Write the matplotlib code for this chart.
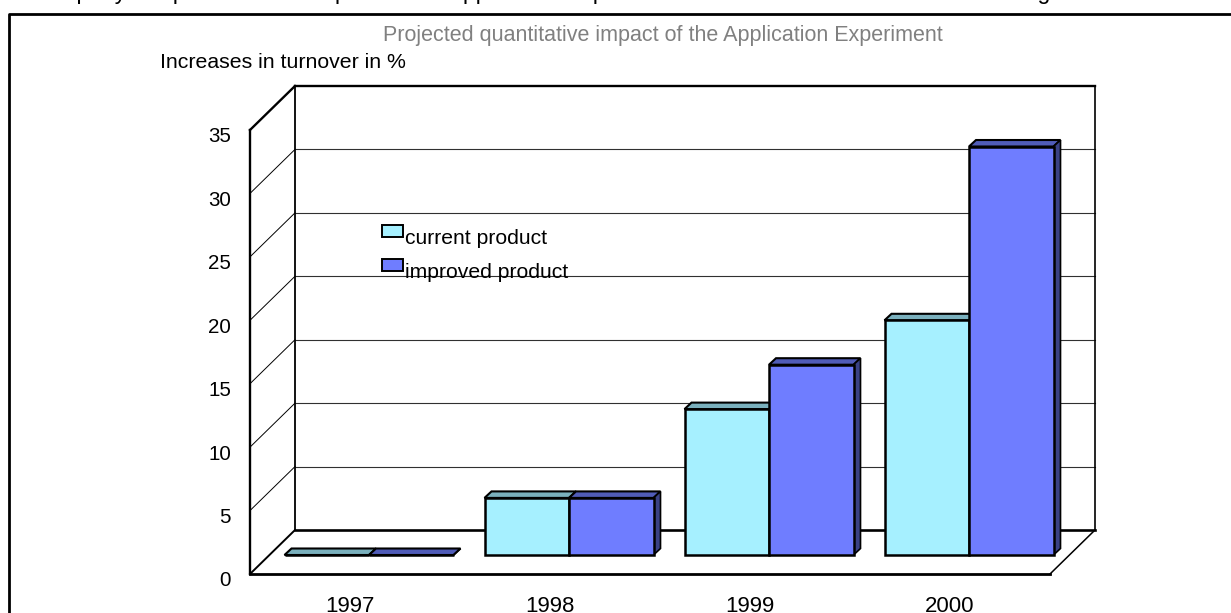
import matplotlib
matplotlib.use('Agg')
from matplotlib import pyplot as plt
from matplotlib.legend_handler import HandlerPatch
from matplotlib.patches import Patch, Polygon, Rectangle

years = ['1997', '1998', '1999', '2000']
current_product = [0, 4.5, 11.5, 18.5]
improved_product = [0, 4.5, 15, 32.2]
y_ticks = [0, 5, 10, 15, 20, 25, 30, 35]

CURRENT = ('#A6F0FF', '#7AB0BD')
IMPROVED = ('#6F7DFF', '#505CB8', '#3A4285')

W, H = 1231, 613
X0, Y0 = 250, 574       # pixel of category 0 / value 0 on the front edge
PX_X, PX_Y = 200, 12.686   # pixels per category / per value

plt.rcParams['font.family'] = ['Liberation Sans', 'DejaVu Sans']
fig = plt.figure(figsize=(W / 100, H / 100), dpi=100)
ax = fig.add_axes([0, 0, 1, 1])
ax.set_xlim(-X0 / PX_X, (W - X0) / PX_X)
ax.set_ylim((Y0 - H) / PX_Y, Y0 / PX_Y)
ax.axis('off')


def back(x, y, dx, dy):
    # move a data point into the chart depth, offsets in pixels
    return x + dx / PX_X, y + dy / PX_Y


def line(p, q, lw=1.7, color='black', z=1):
    ax.plot([p[0], q[0]], [p[1], q[1]], color=color, lw=lw, zorder=z, solid_capstyle='projecting')


# walls
wall_dx, wall_dy = 45, 44
n = len(years)
top = y_ticks[-1]
for v in y_ticks[1:-1]:
    line((0, v), back(0, v, wall_dx, wall_dy), lw=0.7)
    line(back(0, v, wall_dx, wall_dy), back(n, v, wall_dx, wall_dy), lw=0.8, color='#303030')
line((0, 0), (0, top))
line((0, top), back(0, top, wall_dx, wall_dy))
line(back(0, top, wall_dx, wall_dy), back(n, top, wall_dx, wall_dy))
line(back(0, 0, wall_dx, wall_dy), back(0, top, wall_dx, wall_dy), lw=1.3)
line(back(n, 0, wall_dx, wall_dy), back(n, top, wall_dx, wall_dy), lw=1.2)
line((0, 0), (n, 0), lw=2)
line((0, 0), back(0, 0, wall_dx, wall_dy), lw=1.4)
line((n, 0), back(n, 0, wall_dx, wall_dy), lw=1.1)
line(back(0, 0, wall_dx, wall_dy), back(n, 0, wall_dx, wall_dy), lw=1.9)

# bars
bar_dx, bar_dy = 19, 19
depth_x, depth_y = 7, 6.5
width = 84.5 / PX_X


def draw_bars(values, offset, colors, z):
    for i, v in enumerate(values):
        left, base = back(i + 0.5 + offset * width, 0, bar_dx, bar_dy)
        right = left + width
        t = base + v
        top_face = [(left, t), (right, t), back(right, t, depth_x, depth_y), back(left, t, depth_x, depth_y)]
        ax.add_patch(Polygon(top_face, fc=colors[1], ec='black', lw=1.5, zorder=z))
        if len(colors) > 2:
            side = [(right, base), (right, t), back(right, t, depth_x, depth_y), back(right, base, depth_x, depth_y)]
            ax.add_patch(Polygon(side, fc=colors[2], ec='black', lw=1.2, zorder=z))
        ax.bar(left, v, width, bottom=base, align='edge', color=colors[0], edgecolor='black', lw=1.8, zorder=z + 0.1)


draw_bars(current_product, -1, CURRENT, 2)
draw_bars(improved_product, 0, IMPROVED, 3)

# tick labels
for v in y_ticks:
    ax.annotate(str(v), (0, v), xytext=(-19, -7), textcoords='offset pixels', ha='right', va='center', fontsize=14.8)
for i, y in enumerate(years):
    ax.annotate(y, (i + 0.5, 0), xytext=(0, -32), textcoords='offset pixels', ha='center', va='center', fontsize=16)

# page frame and the cut off line of text above it
fig.add_artist(plt.Line2D([9 / W, 9 / W, 1], [0, 1 - 14 / H, 1 - 14 / H], color='black', lw=2))
fig.text(33 / W, 1 + 1.5 / H, "company's expected direct impact of the Application Experiment on the total turnover is the following",
         fontsize=16.6, va='baseline', ha='left')

fig.text(663 / W, 1 - 36 / H, 'Projected quantitative impact of the Application Experiment',
         color='#808080', fontsize=15.5, ha='center', va='center')
fig.text(160 / W, 1 - 63 / H, 'Increases in turnover in %', fontsize=15.3, ha='left', va='center')


def raised_box(legend, orig_handle, xdescent, ydescent, width, height, fontsize):
    # legend swatch sits above the text baseline in the original
    return Rectangle((-xdescent, -ydescent + 4), width, height)


handles = [Patch(fc=CURRENT[0], ec='black', lw=1.4, label='current product'),
           Patch(fc=IMPROVED[0], ec='black', lw=1.4, label='improved product')]
ax.legend(handles=handles, loc='upper left', bbox_to_anchor=(378 / W, 1 - 225 / H), frameon=False, fontsize=15.2,
          handlelength=1.0, handleheight=0.52, handletextpad=0.1, labelspacing=0.7, borderpad=0.2, borderaxespad=0,
          handler_map={Patch: HandlerPatch(patch_func=raised_box)})

plt.savefig('out.png', dpi=100)
